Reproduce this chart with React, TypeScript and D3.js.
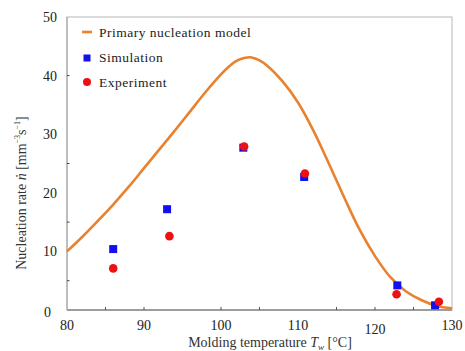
import React, { useRef, useEffect } from 'react';
import * as d3 from 'd3';

// Primary nucleation model curve
const modelTemps = [80, 82, 84, 86, 88, 90, 92, 94, 96, 98, 100, 101, 102, 103, 104, 105, 106, 108, 110, 112, 114, 116, 118, 120, 122, 124, 126, 128, 130];
const modelRates = [10.0, 12.5, 15.2, 18.0, 21.0, 24.2, 27.4, 30.6, 33.9, 37.2, 40.2, 41.5, 42.5, 43.0, 43.1, 42.6, 41.7, 39.0, 35.4, 30.6, 25.0, 19.2, 13.7, 9.2, 5.6, 3.2, 1.7, 0.7, 0.3];

const simTemps = [86.0, 93.0, 102.9, 110.8, 122.9, 127.8];
const simRates = [10.4, 17.2, 27.7, 22.7, 4.2, 0.8];

const expTemps = [86.0, 93.3, 103.0, 110.9, 122.8, 128.3];
const expRates = [7.1, 12.6, 27.9, 23.3, 2.7, 1.4];

const xTickLabels = [80, 90, 100, 110, 120, 130];
const xMinorTicks = [85, 90, 100, 105, 115, 120, 125];
const yTickLabels = [0, 10, 20, 30, 40, 50];
const yMinorTicks = [5, 15, 25, 40];

const W = 465;
const H = 351;
const FONT = '"Liberation Serif", "Times New Roman", serif';
const ORANGE = '#e8822f';
const BLUE = '#1010f0';
const RED = '#ee1111';

const App: React.FC = () => {
  const svgRef = useRef<SVGSVGElement>(null);

  useEffect(() => {
    if (!svgRef.current) return;
    const svg = d3.select(svgRef.current);
    svg.selectAll('*').remove();

    const margin = { left: 67, right: 13, top: 17, bottom: 41 };
    const x = d3.scaleLinear().domain([80, 130]).range([margin.left, W - margin.right]);
    const y = d3.scaleLinear().domain([0, 50]).range([H - margin.bottom, margin.top]);

    // frame
    svg.append('rect')
      .attr('x', x(80)).attr('y', y(50))
      .attr('width', x(130) - x(80)).attr('height', y(0) - y(50))
      .attr('fill', 'none').attr('stroke', '#b8b8b8').attr('stroke-width', 1);
    svg.append('line')
      .attr('x1', x(80)).attr('x2', x(130)).attr('y1', y(0)).attr('y2', y(0))
      .attr('stroke', '#888').attr('stroke-width', 1.5);
    svg.append('line')
      .attr('x1', x(80)).attr('x2', x(80)).attr('y1', y(0)).attr('y2', y(50))
      .attr('stroke', '#aaa').attr('stroke-width', 1.2);

    // x ticks (inward)
    xMinorTicks.forEach(t => {
      svg.append('line')
        .attr('x1', x(t)).attr('x2', x(t)).attr('y1', y(0)).attr('y2', y(0) - 3)
        .attr('stroke', '#555').attr('stroke-width', 1);
    });
    // y ticks (inward, short)
    yMinorTicks.forEach(t => {
      svg.append('line')
        .attr('x1', x(80)).attr('x2', x(80) + 2.5).attr('y1', y(t)).attr('y2', y(t))
        .attr('stroke', '#444').attr('stroke-width', 1);
    });

    // x tick labels
    xTickLabels.forEach(t => {
      svg.append('text')
        .attr('x', x(t)).attr('y', y(0) + (t === 120 ? 24 : 20))
        .attr('text-anchor', 'middle')
        .attr('font-family', FONT).attr('font-size', 14).attr('fill', '#222')
        .text(t);
    });
    // y tick labels
    yTickLabels.forEach(t => {
      svg.append('text')
        .attr('x', t === 0 ? 51 : 57).attr('y', y(t) + 5 + (t === 0 ? 2 : 0))
        .attr('text-anchor', 'end')
        .attr('font-family', FONT).attr('font-size', 14).attr('fill', '#222')
        .text(t);
    });

    // axis titles
    const xt = svg.append('text')
      .attr('x', 270).attr('y', 347)
      .attr('text-anchor', 'middle')
      .attr('font-family', FONT).attr('font-size', 14).attr('fill', '#333');
    xt.append('tspan').text('Molding temperature ');
    xt.append('tspan').attr('font-style', 'italic').text('T');
    xt.append('tspan').attr('font-style', 'italic').attr('font-size', 9).attr('dy', 3).text('w');
    xt.append('tspan').attr('dy', -3).text(' [°C]');

    const yt = svg.append('text')
      .attr('transform', `translate(26,${193}) rotate(-90)`)
      .attr('text-anchor', 'middle')
      .attr('font-family', FONT).attr('font-size', 14).attr('fill', '#333');
    yt.append('tspan').text('Nucleation rate ');
    yt.append('tspan').attr('font-style', 'italic').text('ṅ');
    yt.append('tspan').text('  [mm');
    yt.append('tspan').attr('font-size', 8).attr('dy', -6).text('−3');
    yt.append('tspan').attr('dy', 6).text('s');
    yt.append('tspan').attr('font-size', 8).attr('dy', -6).text('−1');
    yt.append('tspan').attr('dy', 6).text(']');

    // model curve
    const modelData = modelTemps.map((t, i) => ({ t, v: modelRates[i] }));
    const line = d3.line<{ t: number; v: number }>()
      .x(d => x(d.t))
      .y(d => y(d.v))
      .curve(d3.curveCatmullRom.alpha(0.5));
    svg.append('path')
      .datum(modelData)
      .attr('fill', 'none')
      .attr('stroke', ORANGE)
      .attr('stroke-width', 2.6)
      .attr('d', line);

    // simulation squares
    const sq = 8;
    simTemps.forEach((t, i) => {
      svg.append('rect')
        .attr('x', x(t) - sq / 2).attr('y', y(simRates[i]) - sq / 2)
        .attr('width', sq).attr('height', sq)
        .attr('fill', BLUE);
    });
    // experiment circles
    expTemps.forEach((t, i) => {
      svg.append('circle')
        .attr('cx', x(t)).attr('cy', y(expRates[i]))
        .attr('r', 4.3)
        .attr('fill', RED);
    });

    // legend
    svg.append('line')
      .attr('x1', 82).attr('x2', 92).attr('y1', 32).attr('y2', 32)
      .attr('stroke', ORANGE).attr('stroke-width', 2.6);
    svg.append('rect')
      .attr('x', 83.5).attr('y', 54.5).attr('width', 7).attr('height', 7).attr('fill', BLUE);
    svg.append('circle')
      .attr('cx', 87).attr('cy', 82).attr('r', 4).attr('fill', RED);
    const legendLabels = ['Primary nucleation model', 'Simulation', 'Experiment'];
    legendLabels.forEach((l, i) => {
      svg.append('text')
        .attr('x', 99).attr('y', 37 + i * 25)
        .attr('font-family', FONT).attr('font-size', 13.5).attr('fill', '#222')
        .attr('letter-spacing', 0.5)
        .text(l);
    });
  }, []);

  return (
    <svg
      ref={svgRef}
      width={W}
      height={H}
      style={{ position: 'absolute', left: 0, top: 0, background: '#fff' }}
    />
  );
};

export default App;
